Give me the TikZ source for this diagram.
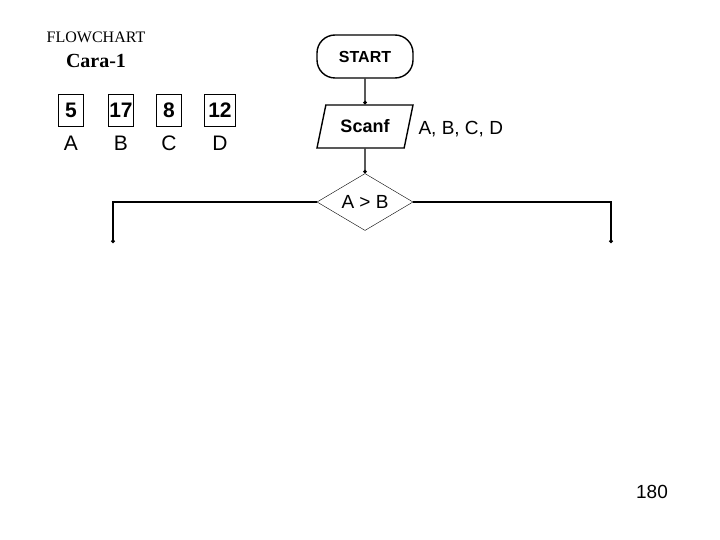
\documentclass[tikz,border=0pt]{standalone}
\usepackage{fontspec}
\setmainfont{Liberation Serif}
\newfontfamily\cf{Liberation Sans}
\usetikzlibrary{shapes.geometric,arrows.meta}
\begin{document}
\begin{tikzpicture}[x=1pt,y=-1pt,
  val/.style={draw,thick,minimum width=25pt,minimum height=32pt,inner sep=0pt,font=\cf\bfseries\fontsize{21}{24}\selectfont},
  lab/.style={font=\cf\fontsize{21}{24}\selectfont},
  ln/.style={line width=1.4pt},
  dot/.style={-{Circle[length=3.5pt]}}]
\useasboundingbox (0,0) rectangle (720,540);
\node at (96,37) {\fontsize{16}{18}\selectfont FLOWCHART};
\node at (96,61) {\fontsize{20}{22}\selectfont\bfseries Cara-1};
\node[val] (va) at (71,110) {5};
\node[val] (vb) at (121,110) {17};
\node[val] (vc) at (169,110) {8};
\node[val,minimum width=31pt] (vd) at (220,110) {12};
\node[lab] (la) at (71,143) {A};
\node[lab] (lb) at (121,143) {B};
\node[lab] (lc) at (169,143) {C};
\node[lab] (ld) at (220,143) {D};
\node[draw,ln,rounded corners=18pt,minimum width=96pt,minimum height=43pt,font=\cf\bfseries\fontsize{16}{18}\selectfont] (start) at (365,56.5) {START};
\node[draw,ln,trapezium,trapezium left angle=66,trapezium right angle=114,minimum width=96pt,minimum height=43pt,trapezium stretches body,font=\cf\bfseries\fontsize{18}{20}\selectfont] (scan) at (365,126.5) {Scanf};
\node[font=\cf\fontsize{19}{21}\selectfont,anchor=west] (vars) at (415,129) {A, B, C, D};
\node[draw,thin,diamond,aspect=1.7,minimum width=96pt,minimum height=57pt,inner sep=0pt,font=\cf\fontsize{19}{21}\selectfont] (dec) at (365,202) {A > B};
\coordinate (lend) at (113,243);
\coordinate (rend) at (611,243);
\draw[ln,dot] (start.south) -- (scan.north);
\draw[ln,dot] (scan.south) -- (dec.north);
\draw[ln,dot] (dec.west) -| (lend);
\draw[ln,dot] (dec.east) -| (rend);
\node[font=\cf\fontsize{19}{21}\selectfont] (pg) at (652,492) {180};
\end{tikzpicture}
\end{document}
